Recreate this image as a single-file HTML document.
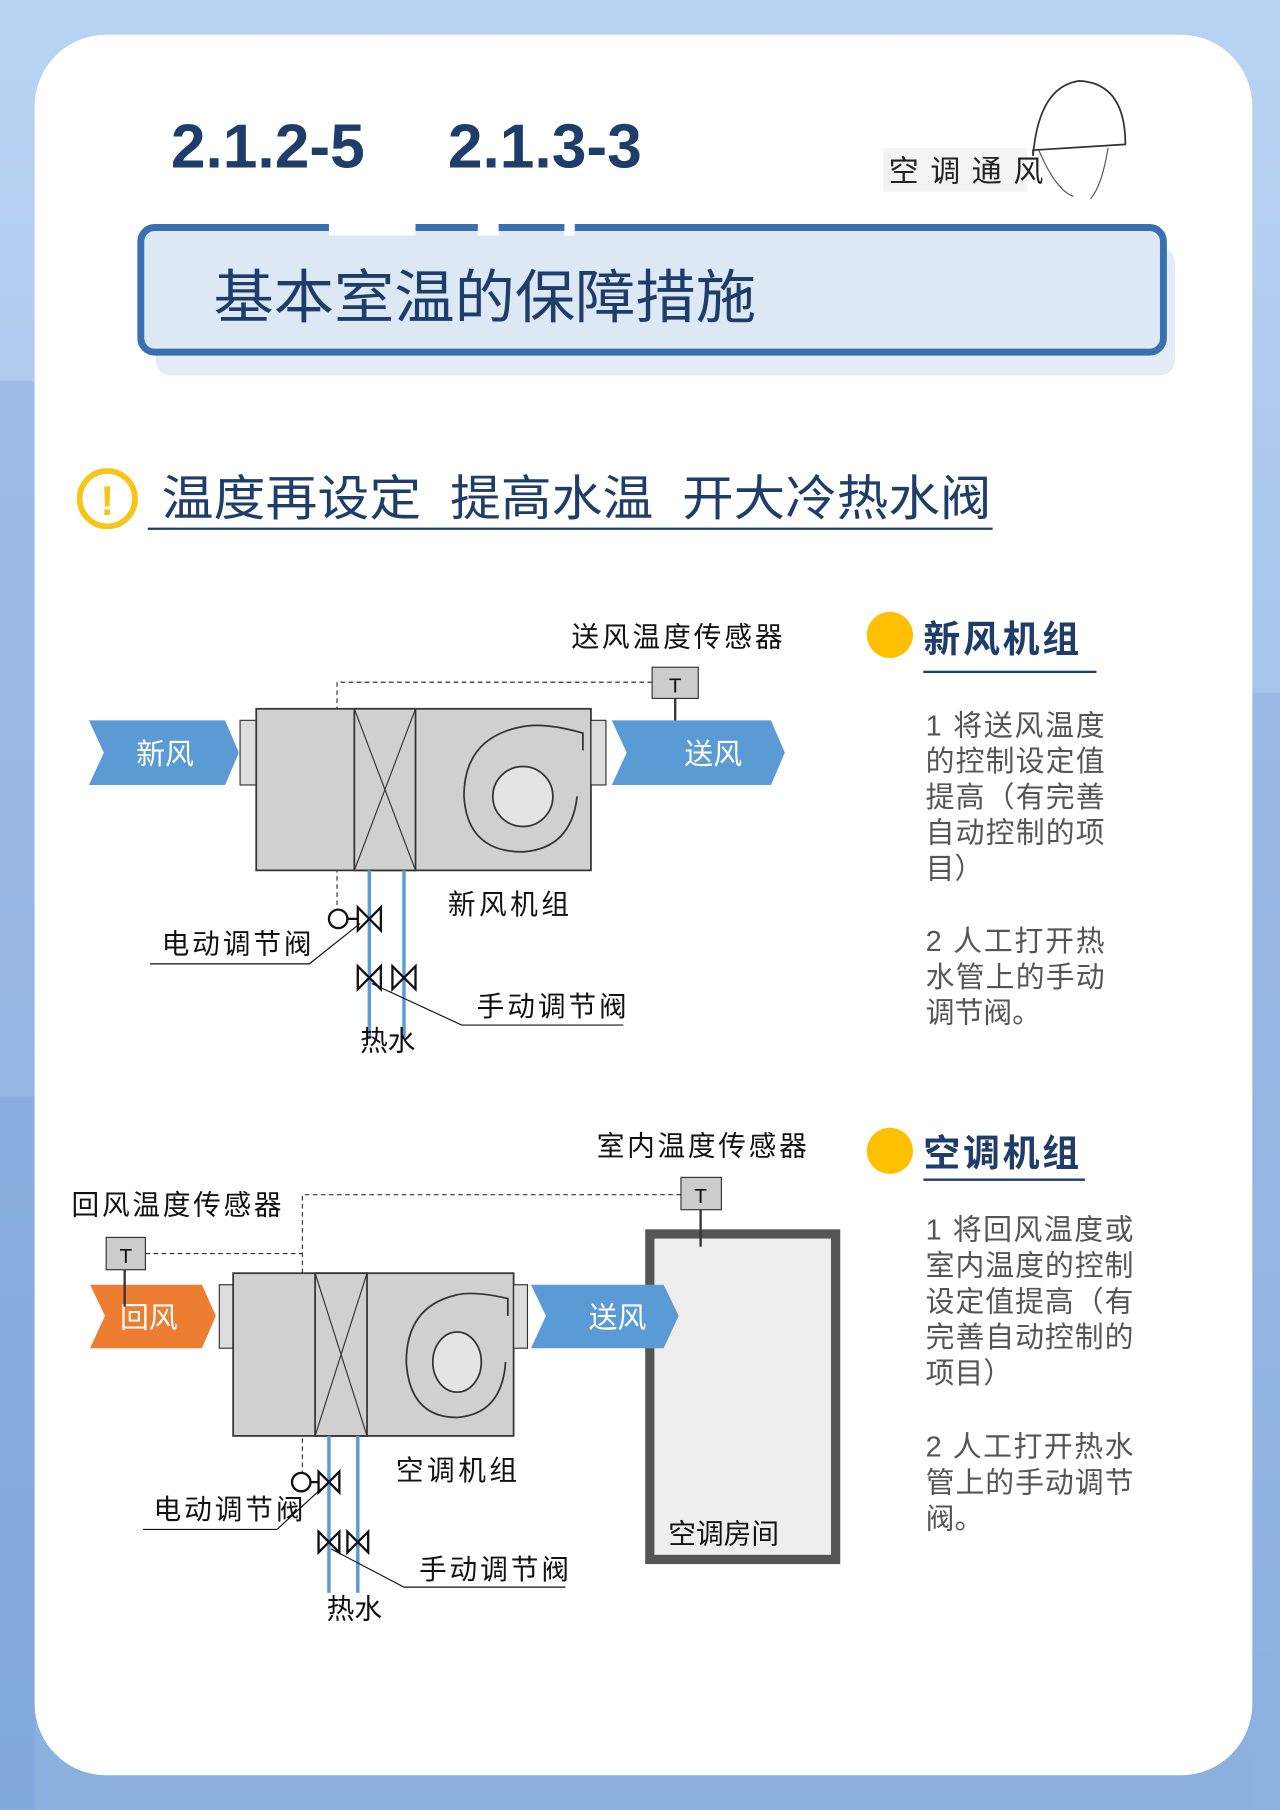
<!DOCTYPE html>
<html><head><meta charset="utf-8"><style>
html,body{margin:0;padding:0;width:1280px;height:1810px;overflow:hidden;background:#a9c8ee}
svg{display:block}
text{font-family:"Liberation Sans","Noto Sans CJK SC",sans-serif}
</style></head><body>
<svg width="1280" height="1810" viewBox="0 0 1109 1568" xmlns="http://www.w3.org/2000/svg">
<defs><linearGradient id="bg" x1="0" y1="0" x2="0" y2="1"><stop offset="0" stop-color="#b9d3f3"/><stop offset="1" stop-color="#8ab0e0"/></linearGradient></defs>
<rect width="1109" height="1568" fill="url(#bg)"/>
<g fill="#8fb2e0" opacity="0.6">
<rect x="0" y="330" width="30" height="1238"/><rect x="0" y="950" width="30" height="618" fill="#7ea5da"/>
<rect x="1085" y="600" width="24" height="968"/><rect x="30" y="1480" width="1055" height="88" fill="#8cb0de"/>
</g>
<rect x="30" y="30" width="1055" height="1508" rx="62" fill="#fff"/>
<text x="148" y="145" font-size="54" font-weight="bold" fill="#1f3d6b" font-family="Liberation Serif,serif">2.1.2-5</text>
<text x="388" y="145" font-size="54" font-weight="bold" fill="#1f3d6b" font-family="Liberation Serif,serif">2.1.3-3</text>
<rect x="765" y="128" width="125" height="38" fill="#f4f4f4"/>
<text x="770" y="157" font-size="26" fill="#222" letter-spacing="10" font-family="Noto Serif CJK SC,serif">空调通风</text>
<path d="M895 135 Q900 75 935 70 Q975 72 975 125 L895 130 Z" fill="none" stroke="#333" stroke-width="1.5"/>
<path d="M900 130 Q915 165 930 170 M960 128 Q955 160 945 172" fill="none" stroke="#555"/>
<rect x="135" y="215" width="883" height="110" rx="12" fill="#e3ecf7"/>
<rect x="122" y="197" width="886" height="108" rx="12" fill="#dde8f5" stroke="#3a6fb0" stroke-width="6"/>
<rect x="285" y="190" width="75" height="14" fill="#fff"/><rect x="414" y="190" width="18" height="14" fill="#fff"/><rect x="489" y="190" width="9" height="14" fill="#fff"/>
<text x="185" y="275" font-size="50" fill="#1f3d6b" textLength="470" lengthAdjust="spacingAndGlyphs">基本室温的保障措施</text>
<circle cx="93" cy="432" r="24" fill="none" stroke="#f5c518" stroke-width="5"/>
<text x="93" y="446" font-size="36" font-weight="bold" fill="#f5c518" text-anchor="middle">!</text>
<g font-size="42" fill="#1f3d6b">
<text x="140" y="446" textLength="225" lengthAdjust="spacingAndGlyphs">温度再设定</text>
<text x="390" y="446" textLength="176" lengthAdjust="spacingAndGlyphs">提高水温</text>
<text x="591" y="446" textLength="268" lengthAdjust="spacingAndGlyphs">开大冷热水阀</text>
</g>
<line x1="128" y1="458" x2="860" y2="458" stroke="#1f3d6b" stroke-width="2"/>

<!-- diagram 1 -->
<g font-size="24" fill="#111">
<text x="495" y="560" textLength="183">送风温度传感器</text>
<polyline points="565,591 292,591 292,790" fill="none" stroke="#333" stroke-dasharray="4,3"/>
<rect x="565" y="578" width="40" height="27" fill="#ccc" stroke="#333"/><text x="585" y="600" text-anchor="middle" font-size="18">T</text>
<line x1="585" y1="605" x2="585" y2="637" stroke="#333" stroke-width="2"/>
<polygon points="77,624 195,624 207,652 195,680 77,680 90,652" fill="#5b9bd5"/>
<text x="118" y="662" fill="#fff" font-size="25">新风</text>
<rect x="208" y="624" width="14" height="56" fill="#ddd" stroke="#333"/>
<rect x="222" y="614" width="290" height="140" fill="#d0d0d0" stroke="#333" stroke-width="1.5"/>
<rect x="307" y="614" width="53" height="140" fill="#d0d0d0" stroke="#333" stroke-width="1.5"/>
<path d="M307 614 L360 754 M360 614 L307 754" stroke="#333"/>
<path d="M505 650 L505 635 Q470 625 450 630 Q402 640 402 690 Q405 738 453 738 Q495 735 500 690" fill="none" stroke="#333" stroke-width="1.5"/>
<circle cx="453" cy="690" r="26" fill="#e4e4e4" stroke="#333" stroke-width="1.5"/>
<rect x="512" y="624" width="13" height="56" fill="#ddd" stroke="#333"/>
<polygon points="530,624 668,624 680,652 668,680 530,680 543,652" fill="#5b9bd5"/>
<text x="593" y="662" fill="#fff" font-size="25">送风</text>
<line x1="320" y1="754" x2="320" y2="900" stroke="#5b9bd5" stroke-width="3"/>
<line x1="350" y1="754" x2="350" y2="900" stroke="#5b9bd5" stroke-width="3"/>
<g fill="#fff" stroke="#111" stroke-width="2">
<circle cx="293" cy="796" r="8"/><line x1="301" y1="796" x2="312" y2="796"/>
<path d="M310 786 L330 806 L330 786 L310 806 Z"/>
<path d="M310 837 L330 857 L330 837 L310 857 Z"/><path d="M340 837 L360 857 L360 837 L340 857 Z"/>
</g>
<text x="388" y="792" textLength="105">新风机组</text>
<text x="140" y="826" textLength="130">电动调节阀</text>
<polyline points="130,835 268,835 312,800" fill="none" stroke="#111"/>
<text x="413" y="880" textLength="130">手动调节阀</text>
<polyline points="540,888 400,888 322,852 M400,888 352,852" fill="none" stroke="#111"/>
<text x="312" y="910">热水</text>
</g>
<circle cx="771" cy="550" r="20" fill="#ffc000"/>
<text x="800" y="565" font-size="32" font-weight="bold" fill="#1f3d6b" textLength="135">新风机组</text>
<line x1="800" y1="582" x2="950" y2="582" stroke="#1f3d6b" stroke-width="2"/>
<g font-size="25" fill="#555">
<text x="802" y="637" textLength="155">1 将送风温度</text><text x="802" y="668" textLength="155">的控制设定值</text><text x="802" y="699" textLength="155">提高（有完善</text><text x="802" y="730" textLength="155">自动控制的项</text><text x="802" y="761">目）</text>
<text x="802" y="824" textLength="155">2 人工打开热</text><text x="802" y="855" textLength="155">水管上的手动</text><text x="802" y="886">调节阀。</text>
</g>

<!-- diagram 2 -->
<g font-size="24" fill="#111">
<text x="517" y="1001" textLength="182">室内温度传感器</text>
<text x="62" y="1052" textLength="182">回风温度传感器</text>
<polyline points="590,1035 262,1035 262,1280" fill="none" stroke="#333" stroke-dasharray="4,3"/>
<line x1="126" y1="1086" x2="262" y2="1086" stroke="#333" stroke-dasharray="4,3"/>
<rect x="563" y="1069" width="161" height="282" fill="#eee" stroke="#555" stroke-width="8"/>
<text x="579" y="1337">空调房间</text>
<rect x="590" y="1020" width="35" height="28" fill="#ccc" stroke="#333"/><text x="607" y="1042" text-anchor="middle" font-size="18">T</text>
<line x1="607" y1="1048" x2="607" y2="1080" stroke="#333" stroke-width="2"/>
<polygon points="78,1113 175,1113 187,1140 175,1168 78,1168 91,1140" fill="#ed7d31"/>
<text x="104" y="1150" fill="#fff" font-size="25">回风</text>
<rect x="92" y="1072" width="34" height="28" fill="#ccc" stroke="#333"/><text x="109" y="1094" text-anchor="middle" font-size="18">T</text>
<line x1="108" y1="1100" x2="108" y2="1132" stroke="#333" stroke-width="2"/>
<rect x="190" y="1113" width="12" height="55" fill="#ddd" stroke="#333"/>
<rect x="202" y="1103" width="243" height="141" fill="#d0d0d0" stroke="#333" stroke-width="1.5"/>
<rect x="273" y="1103" width="45" height="141" fill="#d0d0d0" stroke="#333" stroke-width="1.5"/>
<path d="M273 1103 L318 1244 M318 1103 L273 1244" stroke="#333"/>
<path d="M440 1140 L440 1125 Q410 1118 395 1122 Q352 1132 352 1180 Q355 1228 396 1228 Q435 1225 438 1180" fill="none" stroke="#333" stroke-width="1.5"/>
<ellipse cx="396" cy="1180" rx="21" ry="26" fill="#e4e4e4" stroke="#333" stroke-width="1.5"/>
<rect x="445" y="1113" width="12" height="55" fill="#ddd" stroke="#333"/>
<polygon points="460,1113 575,1113 588,1140 575,1168 460,1168 473,1140" fill="#5b9bd5"/>
<text x="510" y="1150" fill="#fff" font-size="25">送风</text>
<line x1="285" y1="1244" x2="285" y2="1380" stroke="#5b9bd5" stroke-width="3"/>
<line x1="310" y1="1244" x2="310" y2="1380" stroke="#5b9bd5" stroke-width="3"/>
<g fill="#fff" stroke="#111" stroke-width="2">
<circle cx="261" cy="1284" r="8"/><line x1="269" y1="1284" x2="276" y2="1284"/>
<path d="M276 1275 L294 1293 L294 1275 L276 1293 Z"/>
<path d="M276 1327 L294 1345 L294 1327 L276 1345 Z"/><path d="M301 1327 L319 1345 L319 1327 L301 1345 Z"/>
</g>
<text x="343" y="1282" textLength="105">空调机组</text>
<text x="133" y="1316" textLength="130">电动调节阀</text>
<polyline points="124,1325 240,1325 278,1290" fill="none" stroke="#111"/>
<text x="363" y="1368" textLength="130">手动调节阀</text>
<polyline points="490,1375 350,1375 287,1342 M350,1375 312,1342" fill="none" stroke="#111"/>
<text x="283" y="1402">热水</text>
</g>
<circle cx="771" cy="997" r="20" fill="#ffc000"/>
<text x="800" y="1010" font-size="32" font-weight="bold" fill="#1f3d6b" textLength="135">空调机组</text>
<line x1="800" y1="1022" x2="940" y2="1022" stroke="#1f3d6b" stroke-width="2"/>
<g font-size="25" fill="#555">
<text x="802" y="1074" textLength="180">1 将回风温度或</text><text x="802" y="1105" textLength="180">室内温度的控制</text><text x="802" y="1136" textLength="180">设定值提高（有</text><text x="802" y="1167" textLength="180">完善自动控制的</text><text x="802" y="1198">项目）</text>
<text x="802" y="1262" textLength="180">2 人工打开热水</text><text x="802" y="1293" textLength="180">管上的手动调节</text><text x="802" y="1324">阀。</text>
</g>
</svg>
</body></html>
